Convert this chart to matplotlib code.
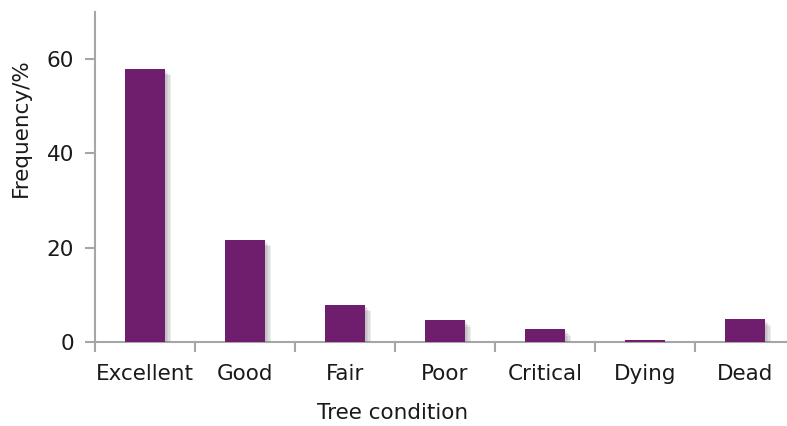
import matplotlib
matplotlib.use("Agg")
import matplotlib.pyplot as plt
import matplotlib.patheffects as pe
import numpy as np

# datos
condiciones = ["Excellent", "Good", "Fair", "Poor", "Critical", "Dying", "Dead"]
frecuencia = [57.9, 21.6, 7.9, 4.6, 2.7, 0.5, 4.8]
marcas_y = [0, 20, 40, 60]

color_barra = "#6F1E6E"
color_eje = "#A6A6A6"
color_texto = "#1a1a1a"
tam = 15.5

plt.rcParams["font.family"] = ["DejaVu Sans"]

fig = plt.figure(figsize=(7.87, 4.26), dpi=100)
ax = fig.add_axes([95 / 787, 84 / 426, 700 / 787, 330 / 426])

x = np.arange(len(condiciones))
barras = ax.bar(x, frecuencia, width=0.4, color=color_barra, zorder=3)
# sombra suave a la derecha y abajo
sombra = [pe.SimplePatchShadow(offset=(d, -d), shadow_rgbFace="#808080", alpha=0.14)
          for d in (1.5, 2.5, 3.5, 4.5)]
for b in barras:
    b.set_path_effects(sombra + [pe.Normal()])

ax.set_xlim(-0.5, len(condiciones) - 0.5)
ax.set_ylim(0, 70)

# etiquetas en el centro, marcas en los limites de categoria
ax.set_xticks(x)
ax.set_xticklabels(condiciones, fontsize=tam, color=color_texto)
ax.set_xticks(np.arange(len(condiciones) + 1) - 0.5, minor=True)
ax.tick_params(axis="x", which="major", length=0, pad=15.5)
ax.tick_params(axis="x", which="minor", length=7, width=1.5, color=color_eje)

ax.set_yticks(marcas_y)
ax.tick_params(axis="y", length=7, width=1.5, color=color_eje, labelsize=tam,
               labelcolor=color_texto, pad=8)

for lado in ["top", "right"]:
    ax.spines[lado].set_visible(False)
for lado in ["left", "bottom"]:
    ax.spines[lado].set_color(color_eje)
    ax.spines[lado].set_linewidth(1.5)

fig.text(21 / 787, 1 - 128 / 426, "Frequency/%", fontsize=tam, color=color_texto,
         rotation=90, ha="center", va="center")
fig.text(393 / 787, 1 - 413 / 426, "Tree condition", fontsize=tam,
         color=color_texto, ha="center", va="center")

fig.savefig("out.png", dpi=100)
